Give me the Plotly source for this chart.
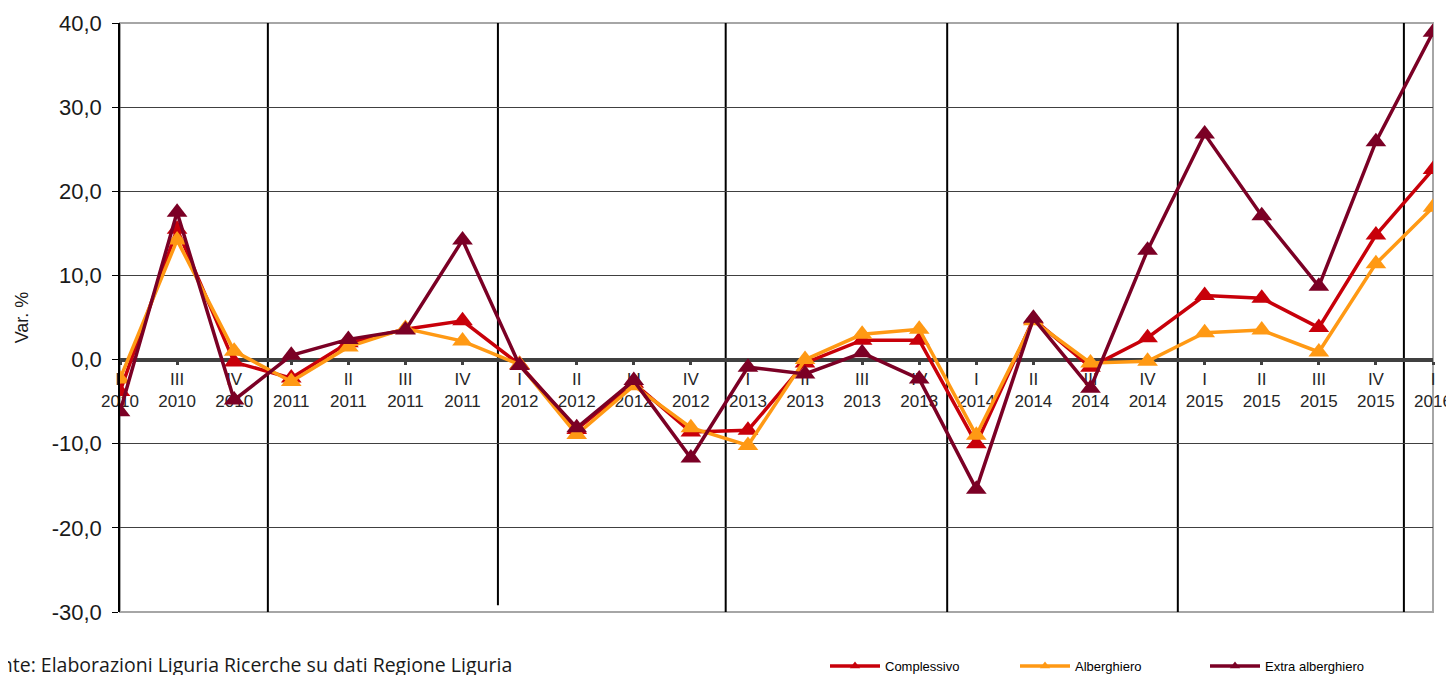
import plotly.graph_objects as go

quarters = ["II", "III", "IV", "I", "II", "III", "IV", "I", "II", "III", "IV", "I", "II", "III", "IV",
            "I", "II", "III", "IV", "I", "II", "III", "IV", "I"]
years = ["2010", "2010", "2010", "2011", "2011", "2011", "2011", "2012", "2012", "2012", "2012",
         "2013", "2013", "2013", "2013", "2014", "2014", "2014", "2014", "2015", "2015", "2015", "2015", "2016"]
categories = [f"{q}<br>{y}" for q, y in zip(quarters, years)]

complessivo = [-3.8, 15.5, -0.3, -2.2, 2.0, 3.6, 4.6, -0.6, -8.3, -2.8, -8.6, -8.4, -0.4, 2.3, 2.3,
               -10.0, 4.8, -0.9, 2.6, 7.6, 7.3, 3.8, 14.8, 22.6]
alberghiero = [-2.3, 14.2, 1.0, -2.6, 1.5, 3.7, 2.2, -0.6, -8.9, -3.1, -8.1, -10.2, 0.0, 3.0, 3.6,
               -9.0, 4.6, -0.4, -0.2, 3.2, 3.5, 0.9, 11.4, 18.1]
extra_alberghiero = [-6.2, 17.5, -4.8, 0.5, 2.4, 3.5, 14.2, -0.7, -8.1, -2.5, -11.7, -0.9, -1.7, 0.8, -2.3,
                     -15.4, 4.9, -3.4, 13.0, 26.8, 17.1, 8.7, 25.9, 38.9]

series_names = ["Complessivo", "Alberghiero", "Extra alberghiero"]
series_values = [complessivo, alberghiero, extra_alberghiero]
series_colors = ["#C8000A", "#FF9914", "#7B0025"]

y_tick_vals = [-30, -20, -10, 0, 10, 20, 30, 40]
y_tick_text = ["-30,0", "-20,0", "-10,0", "0,0", "10,0", "20,0", "30,0", "40,0"]

# year separators (category-index positions) and their lower ends
separators = [2.59, 6.62, 10.61, 14.49, 18.53, 22.49]
separator_bottoms = [-30, -29.2, -30, -30, -30, -30]

Y_MIN, Y_MAX = -30, 40

# page body has an 8px default margin; compensate so the plot lands where intended
OFF = 8
L, R, T, B = 120 - OFF, 21, 23 - OFF, 63
W, H = 1454 - OFF, 675 - OFF
PW = W - L - R
PH = H - T - B


def px_x(px):
    return (px - OFF - L) / PW


def px_y(py):
    return (H - B + OFF - py) / PH


fig = go.Figure()
for name, vals, col in zip(series_names, series_values, series_colors):
    fig.add_trace(go.Scatter(
        x=categories, y=vals, mode="lines+markers", name=name, showlegend=False,
        line=dict(color=col, width=3.5),
        marker=dict(symbol="triangle-up", size=18, color=col),
    ))
# legend entries (small symbols like the original)
for name, col in zip(series_names, series_colors):
    fig.add_trace(go.Scatter(
        x=[None], y=[None], mode="lines+markers", name=name,
        line=dict(color=col, width=3.5),
        marker=dict(symbol="triangle-up", size=9, color=col),
    ))

shapes = [dict(type="rect", xref="paper", yref="paper", x0=0, x1=1, y0=0, y1=1,
               line=dict(color="#A6A6A6", width=2), layer="below")]
for sx, sb in zip(separators, separator_bottoms):
    shapes.append(dict(type="line", xref="x", yref="y", x0=sx, x1=sx, y0=sb, y1=Y_MAX,
                       line=dict(color="#000000", width=2), layer="below"))

fig.update_layout(
    width=W, height=H,
    margin=dict(l=L, r=R, t=T, b=B, autoexpand=False),
    paper_bgcolor="white", plot_bgcolor="white",
    font=dict(family="Liberation Sans, Arial, sans-serif", color="#000000"),
    shapes=shapes,
    xaxis=dict(
        type="category", range=[0, len(categories) - 1],
        anchor="free", position=(0 - Y_MIN) / (Y_MAX - Y_MIN),
        showline=True, linecolor="#404040", linewidth=4,
        ticks="outside", ticklen=3, tickwidth=3, tickcolor="#404040",
        showgrid=False, tickfont=dict(size=17, color="#262626"),
        layer="below traces", fixedrange=True,
    ),
    yaxis=dict(
        range=[Y_MIN, Y_MAX], tickmode="array", tickvals=y_tick_vals, ticktext=y_tick_text,
        showline=True, linecolor="#000000", linewidth=1.5,
        ticks="outside", ticklen=6, tickcolor="#000000",
        showgrid=True, gridcolor="#404040", gridwidth=1, zeroline=False,
        tickfont=dict(size=22, color="#1A1A1A"), ticklabelstandoff=6,
        title=dict(text="Var. %", font=dict(size=18, color="#1A1A1A"), standoff=18),
    ),
    legend=dict(
        orientation="h", x=px_x(825), xanchor="left",
        y=px_y(666), yanchor="middle",
        font=dict(size=13, family="Liberation Sans, Arial, sans-serif", color="#000000"),
        itemwidth=50, entrywidth=125, entrywidthmode="pixels",
        bgcolor="rgba(0,0,0,0)",
    ),
    annotations=[dict(
        text="Fonte: Elaborazioni Liguria Ricerche su dati Regione Liguria",
        xref="paper", yref="paper", x=px_x(-23), y=px_y(664),
        xanchor="left", yanchor="middle", showarrow=False,
        font=dict(family="Open Sans, sans-serif", size=19.5, color="#1A1A1A"),
    )],
)

fig.write_html("out.html")
